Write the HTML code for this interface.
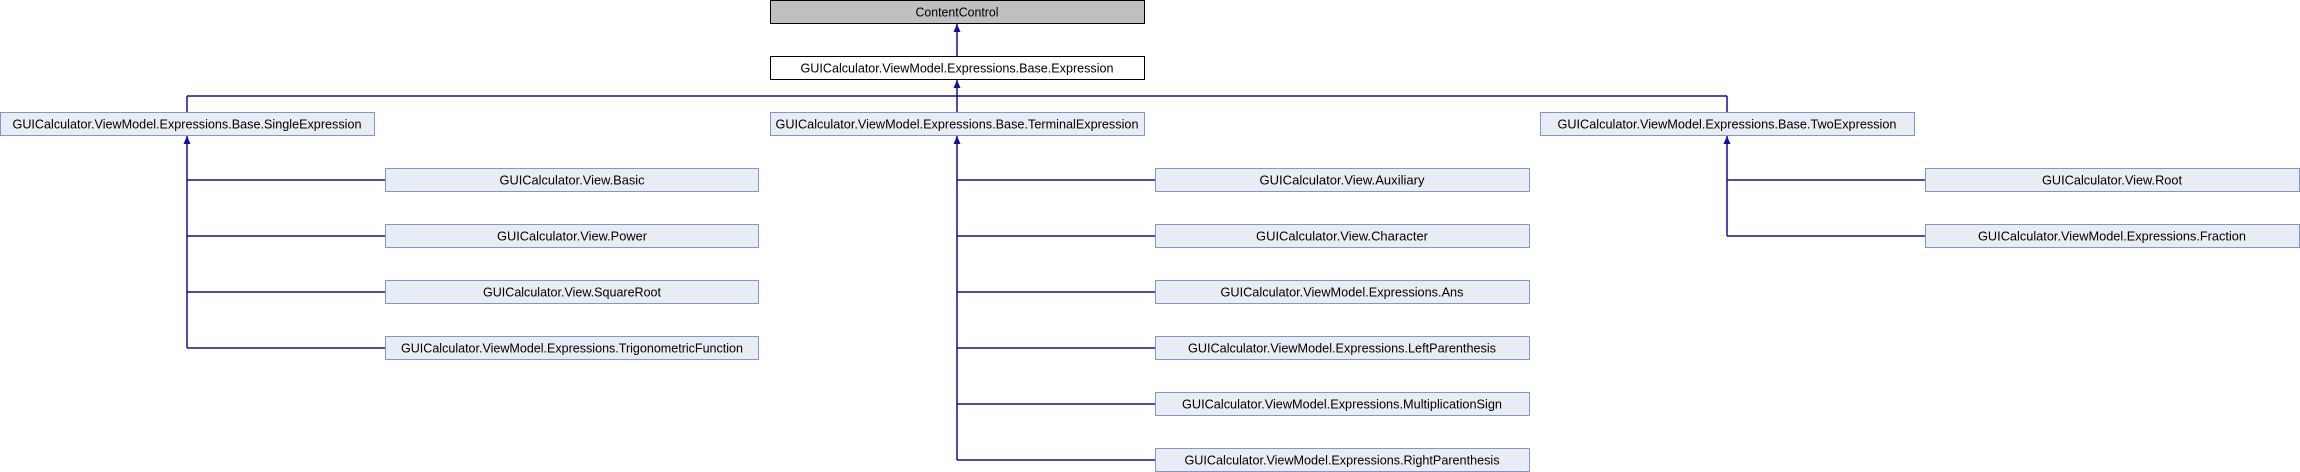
<!DOCTYPE html>
<html><head><meta charset="utf-8"><style>html,body{margin:0;padding:0;background:#fff}svg{display:block}</style></head>
<body>
<svg width="2300" height="472" xmlns="http://www.w3.org/2000/svg" font-family="Liberation Sans, sans-serif" font-size="13">
<g stroke="#10109a" stroke-width="1.5" fill="none">
<line x1="957" y1="24" x2="957" y2="56"/>
<line x1="957" y1="80" x2="957" y2="112"/>
<line x1="187" y1="96" x2="1727" y2="96"/>
<line x1="187" y1="96" x2="187" y2="112"/>
<line x1="1727" y1="96" x2="1727" y2="112"/>
<line x1="187" y1="136" x2="187" y2="348"/>
<line x1="957" y1="136" x2="957" y2="460"/>
<line x1="1727" y1="136" x2="1727" y2="236"/>
<line x1="187" y1="180" x2="385" y2="180"/><line x1="187" y1="236" x2="385" y2="236"/><line x1="187" y1="292" x2="385" y2="292"/><line x1="187" y1="348" x2="385" y2="348"/>
<line x1="957" y1="180" x2="1155" y2="180"/><line x1="957" y1="236" x2="1155" y2="236"/><line x1="957" y1="292" x2="1155" y2="292"/><line x1="957" y1="348" x2="1155" y2="348"/><line x1="957" y1="404" x2="1155" y2="404"/><line x1="957" y1="460" x2="1155" y2="460"/>
<line x1="1727" y1="180" x2="1925" y2="180"/><line x1="1727" y1="236" x2="1925" y2="236"/>
</g>
<g fill="#10109a">
<polygon points="957,24 953.5,32 960.5,32"/>
<polygon points="957,80 953.5,88 960.5,88"/>
<polygon points="187,136 183.5,144 190.5,144"/>
<polygon points="957,136 953.5,144 960.5,144"/>
<polygon points="1727,136 1723.5,144 1730.5,144"/>
</g>
<rect x="770.5" y="0.5" width="374" height="23" fill="#bfbfbf" stroke="#000"/>
<rect x="770.5" y="56.5" width="374" height="23" fill="#fff" stroke="#000"/>
<g fill="#e8ecf5" stroke="#7d98d1">
<rect x="0.5" y="112.5" width="374" height="23"/>
<rect x="770.5" y="112.5" width="374" height="23"/>
<rect x="1540.5" y="112.5" width="374" height="23"/>
<rect x="385.5" y="168.5" width="373" height="23"/><rect x="385.5" y="224.5" width="373" height="23"/><rect x="385.5" y="280.5" width="373" height="23"/><rect x="385.5" y="336.5" width="373" height="23"/>
<rect x="1155.5" y="168.5" width="374" height="23"/><rect x="1155.5" y="224.5" width="374" height="23"/><rect x="1155.5" y="280.5" width="374" height="23"/><rect x="1155.5" y="336.5" width="374" height="23"/><rect x="1155.5" y="392.5" width="374" height="23"/><rect x="1155.5" y="448.5" width="374" height="23"/>
<rect x="1925.5" y="168.5" width="374" height="23"/><rect x="1925.5" y="224.5" width="374" height="23"/>
</g>
<g fill="#000" text-anchor="middle">
<text x="957" y="16.5" textLength="83" lengthAdjust="spacingAndGlyphs">ContentControl</text>
<text x="957" y="72.5" textLength="313" lengthAdjust="spacingAndGlyphs">GUICalculator.ViewModel.Expressions.Base.Expression</text>
<text x="187" y="128.5" textLength="349" lengthAdjust="spacingAndGlyphs">GUICalculator.ViewModel.Expressions.Base.SingleExpression</text>
<text x="957" y="128.5" textLength="363" lengthAdjust="spacingAndGlyphs">GUICalculator.ViewModel.Expressions.Base.TerminalExpression</text>
<text x="1727" y="128.5" textLength="339" lengthAdjust="spacingAndGlyphs">GUICalculator.ViewModel.Expressions.Base.TwoExpression</text>
<text x="572" y="184.5" textLength="145" lengthAdjust="spacingAndGlyphs">GUICalculator.View.Basic</text>
<text x="572" y="240.5" textLength="150" lengthAdjust="spacingAndGlyphs">GUICalculator.View.Power</text>
<text x="572" y="296.5" textLength="178" lengthAdjust="spacingAndGlyphs">GUICalculator.View.SquareRoot</text>
<text x="572" y="352.5" textLength="342" lengthAdjust="spacingAndGlyphs">GUICalculator.ViewModel.Expressions.TrigonometricFunction</text>
<text x="1342" y="184.5" textLength="165" lengthAdjust="spacingAndGlyphs">GUICalculator.View.Auxiliary</text>
<text x="1342" y="240.5" textLength="172" lengthAdjust="spacingAndGlyphs">GUICalculator.View.Character</text>
<text x="1342" y="296.5" textLength="243" lengthAdjust="spacingAndGlyphs">GUICalculator.ViewModel.Expressions.Ans</text>
<text x="1342" y="352.5" textLength="308" lengthAdjust="spacingAndGlyphs">GUICalculator.ViewModel.Expressions.LeftParenthesis</text>
<text x="1342" y="408.5" textLength="320" lengthAdjust="spacingAndGlyphs">GUICalculator.ViewModel.Expressions.MultiplicationSign</text>
<text x="1342" y="464.5" textLength="315" lengthAdjust="spacingAndGlyphs">GUICalculator.ViewModel.Expressions.RightParenthesis</text>
<text x="2112" y="184.5" textLength="140" lengthAdjust="spacingAndGlyphs">GUICalculator.View.Root</text>
<text x="2112" y="240.5" textLength="268" lengthAdjust="spacingAndGlyphs">GUICalculator.ViewModel.Expressions.Fraction</text>
</g>
</svg>
</body></html>
